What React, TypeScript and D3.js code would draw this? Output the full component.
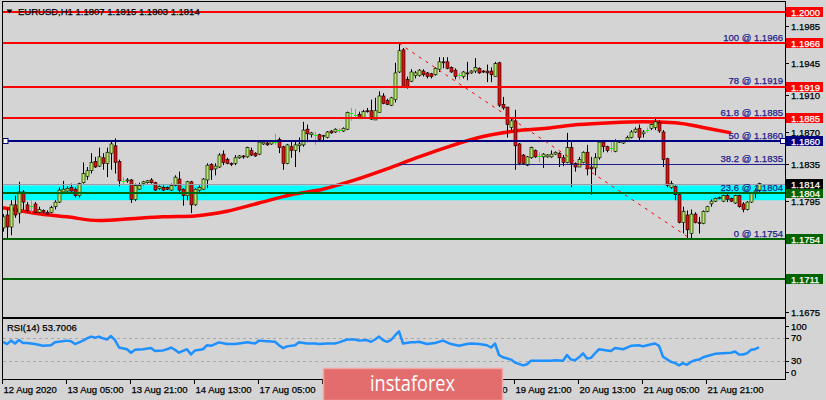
import * as d3 from "d3";

// EURUSD H1, one row per bar from 12 Aug 13:00: [open, high, low, close]
const candles: number[][] = [
  [1.1766, 1.1781, 1.1762, 1.1778], [1.178, 1.1788, 1.1755, 1.1767], [1.1767, 1.1796, 1.1758, 1.1791],
  [1.1791, 1.1801, 1.1777, 1.178], [1.1782, 1.1816, 1.1771, 1.1805], [1.1805, 1.1807, 1.1785, 1.1794],
  [1.1791, 1.1794, 1.1783, 1.1785], [1.179, 1.1796, 1.1782, 1.179], [1.1792, 1.1794, 1.1782, 1.1783],
  [1.1783, 1.1789, 1.1781, 1.1786], [1.1785, 1.1786, 1.1781, 1.1783], [1.1783, 1.1785, 1.178, 1.1781],
  [1.1783, 1.179, 1.1782, 1.1788], [1.1789, 1.1796, 1.1786, 1.1794], [1.1794, 1.181, 1.1793, 1.1807],
  [1.1805, 1.1817, 1.1804, 1.1808], [1.1806, 1.1811, 1.1805, 1.1809], [1.181, 1.1814, 1.1805, 1.1806],
  [1.1808, 1.181, 1.1799, 1.1801], [1.1801, 1.1815, 1.1799, 1.1814], [1.1815, 1.1837, 1.1814, 1.1825],
  [1.1822, 1.1832, 1.1818, 1.1828], [1.1828, 1.1847, 1.1825, 1.1837], [1.1838, 1.1843, 1.1831, 1.1832],
  [1.1833, 1.1853, 1.1832, 1.1843], [1.1842, 1.1847, 1.1829, 1.1836], [1.1836, 1.1853, 1.1821, 1.1848],
  [1.1847, 1.1861, 1.1829, 1.1857], [1.1855, 1.1863, 1.1825, 1.1837], [1.1838, 1.184, 1.1811, 1.1817],
  [1.1817, 1.1821, 1.1814, 1.1817], [1.1817, 1.182, 1.1815, 1.1818], [1.1818, 1.1819, 1.1793, 1.1797],
  [1.1797, 1.1814, 1.1795, 1.1812], [1.1808, 1.1815, 1.1807, 1.1812], [1.1814, 1.1817, 1.1812, 1.1816],
  [1.1815, 1.1818, 1.1814, 1.1817], [1.1818, 1.182, 1.1814, 1.1815], [1.1815, 1.1816, 1.1806, 1.1807],
  [1.1809, 1.1812, 1.1807, 1.1811], [1.181, 1.1812, 1.1806, 1.1807], [1.181, 1.1811, 1.1807, 1.1808],
  [1.1807, 1.1814, 1.1806, 1.1812], [1.1812, 1.1823, 1.1811, 1.1821], [1.1819, 1.1827, 1.1805, 1.1807],
  [1.1808, 1.1809, 1.179, 1.1801], [1.1801, 1.1817, 1.1796, 1.1816], [1.1816, 1.1817, 1.1782, 1.1791],
  [1.1791, 1.1809, 1.179, 1.1808], [1.1807, 1.1812, 1.1805, 1.181], [1.1808, 1.182, 1.1807, 1.1819],
  [1.1818, 1.1836, 1.1809, 1.1834], [1.1835, 1.1836, 1.1818, 1.1829], [1.183, 1.1836, 1.1823, 1.1833],
  [1.1832, 1.1847, 1.1831, 1.1845], [1.1846, 1.185, 1.1834, 1.1837], [1.184, 1.1842, 1.1835, 1.1836],
  [1.1836, 1.1837, 1.1833, 1.1835], [1.1836, 1.1845, 1.1834, 1.1842], [1.1842, 1.1845, 1.1841, 1.1844],
  [1.1844, 1.1845, 1.1841, 1.1843], [1.1843, 1.1854, 1.1842, 1.1853], [1.185, 1.1853, 1.1844, 1.1845],
  [1.1847, 1.1848, 1.1843, 1.1844], [1.1846, 1.186, 1.1845, 1.1859], [1.1857, 1.186, 1.1856, 1.1859],
  [1.1858, 1.186, 1.1855, 1.1856], [1.1857, 1.1861, 1.1856, 1.186], [1.1859, 1.1868, 1.1856, 1.1859],
  [1.1862, 1.1864, 1.1847, 1.1853], [1.1854, 1.1855, 1.1829, 1.1836], [1.1836, 1.1857, 1.1835, 1.1856],
  [1.1854, 1.1859, 1.1842, 1.185], [1.185, 1.1861, 1.1832, 1.1856], [1.1855, 1.1864, 1.1848, 1.1857],
  [1.1856, 1.1881, 1.1854, 1.1872], [1.1873, 1.1878, 1.1859, 1.1868], [1.1867, 1.187, 1.1864, 1.1869],
  [1.1867, 1.187, 1.1856, 1.1867], [1.1867, 1.1868, 1.1861, 1.1862], [1.1865, 1.1867, 1.1859, 1.1866],
  [1.1864, 1.1871, 1.1863, 1.187], [1.1871, 1.1872, 1.1868, 1.1869], [1.187, 1.1874, 1.1869, 1.1873],
  [1.1872, 1.1874, 1.1869, 1.1872], [1.1871, 1.1875, 1.187, 1.1874], [1.1873, 1.1892, 1.1872, 1.1891],
  [1.1891, 1.1896, 1.1882, 1.1891], [1.1888, 1.1895, 1.1884, 1.1888], [1.1889, 1.1892, 1.1884, 1.1885],
  [1.1886, 1.1894, 1.1885, 1.1892], [1.1893, 1.1896, 1.1891, 1.1892], [1.1893, 1.1905, 1.1883, 1.1884],
  [1.1883, 1.1907, 1.1883, 1.1893], [1.1891, 1.1914, 1.1891, 1.1909], [1.1909, 1.1912, 1.19, 1.1901],
  [1.1904, 1.1906, 1.1899, 1.19], [1.1899, 1.1908, 1.1898, 1.1907], [1.1905, 1.1945, 1.1902, 1.1934],
  [1.1935, 1.1966, 1.1934, 1.1958], [1.1959, 1.1961, 1.1918, 1.1919], [1.1927, 1.193, 1.1917, 1.1919],
  [1.1925, 1.1938, 1.1924, 1.1935], [1.1931, 1.1936, 1.1928, 1.1934], [1.1931, 1.1938, 1.193, 1.1937],
  [1.1936, 1.1938, 1.193, 1.1932], [1.1934, 1.1935, 1.1928, 1.193], [1.1933, 1.1934, 1.1928, 1.193],
  [1.1932, 1.194, 1.1931, 1.1939], [1.1938, 1.1951, 1.1935, 1.1946], [1.1946, 1.1951, 1.1939, 1.1945],
  [1.1946, 1.1951, 1.1938, 1.1939], [1.194, 1.1941, 1.1934, 1.1935], [1.1937, 1.1939, 1.1927, 1.193],
  [1.1932, 1.1934, 1.1927, 1.1932], [1.193, 1.1936, 1.1928, 1.1935], [1.1934, 1.1946, 1.1926, 1.1933],
  [1.1934, 1.1937, 1.1933, 1.1936], [1.1936, 1.195, 1.1934, 1.194], [1.1939, 1.194, 1.1933, 1.1934],
  [1.1936, 1.1937, 1.1934, 1.1935], [1.1936, 1.1943, 1.1924, 1.1934], [1.1936, 1.194, 1.1924, 1.1932],
  [1.193, 1.1946, 1.193, 1.1944], [1.1945, 1.1946, 1.1897, 1.1899], [1.19, 1.1908, 1.1894, 1.1896],
  [1.1897, 1.1897, 1.1864, 1.1878], [1.1875, 1.1885, 1.1872, 1.1882], [1.1882, 1.1894, 1.1829, 1.1855],
  [1.1857, 1.1858, 1.1834, 1.1836], [1.1845, 1.1846, 1.1835, 1.1836], [1.1834, 1.1844, 1.1833, 1.1843],
  [1.1842, 1.1854, 1.1841, 1.1853], [1.185, 1.1851, 1.1842, 1.1843], [1.1844, 1.1848, 1.1837, 1.1844],
  [1.1843, 1.1847, 1.1831, 1.1846], [1.1843, 1.1846, 1.1842, 1.1845], [1.1843, 1.185, 1.1842, 1.1846],
  [1.1846, 1.1849, 1.1845, 1.1848], [1.1847, 1.1848, 1.1832, 1.1842], [1.1842, 1.1845, 1.1833, 1.1837],
  [1.1837, 1.1869, 1.1836, 1.1853], [1.1853, 1.1859, 1.181, 1.1836], [1.1836, 1.1837, 1.1827, 1.1832],
  [1.1832, 1.1843, 1.1832, 1.184], [1.1837, 1.1849, 1.1836, 1.1848], [1.1848, 1.1856, 1.1823, 1.183],
  [1.1832, 1.1843, 1.1802, 1.183], [1.1831, 1.1847, 1.1823, 1.1842], [1.1842, 1.1861, 1.184, 1.1859],
  [1.1859, 1.1861, 1.1848, 1.1854], [1.1854, 1.1855, 1.1848, 1.185], [1.1853, 1.1859, 1.1848, 1.1853],
  [1.1849, 1.1862, 1.1848, 1.186], [1.1859, 1.1861, 1.1858, 1.186], [1.1858, 1.1861, 1.1857, 1.186],
  [1.186, 1.1866, 1.1859, 1.1864], [1.1864, 1.1872, 1.1863, 1.187], [1.187, 1.1875, 1.1869, 1.1873],
  [1.1874, 1.1878, 1.1861, 1.1864], [1.1868, 1.1872, 1.1864, 1.187], [1.1872, 1.1875, 1.1869, 1.1872],
  [1.1874, 1.1879, 1.1872, 1.1878], [1.1875, 1.1884, 1.1872, 1.1881], [1.188, 1.1883, 1.1869, 1.1871],
  [1.187, 1.1872, 1.1832, 1.184], [1.1841, 1.1842, 1.181, 1.1812], [1.181, 1.1817, 1.1808, 1.1814],
  [1.1811, 1.1812, 1.1796, 1.1802], [1.1802, 1.1804, 1.1771, 1.1772], [1.1772, 1.1789, 1.176, 1.1784],
  [1.178, 1.1785, 1.1755, 1.1764], [1.176, 1.1786, 1.1754, 1.1781], [1.1781, 1.1783, 1.1771, 1.1772],
  [1.1772, 1.1778, 1.176, 1.1771], [1.1771, 1.1785, 1.177, 1.1784], [1.1784, 1.179, 1.1783, 1.1789],
  [1.1792, 1.1797, 1.1789, 1.1795], [1.1795, 1.1799, 1.1794, 1.1798], [1.1798, 1.18, 1.1797, 1.1799],
  [1.1795, 1.1802, 1.1794, 1.1801], [1.1801, 1.1805, 1.1794, 1.1797], [1.1798, 1.1799, 1.1794, 1.1795],
  [1.1793, 1.1802, 1.1792, 1.1801], [1.1801, 1.1802, 1.1788, 1.1789], [1.1792, 1.1794, 1.1783, 1.1786],
  [1.1786, 1.1795, 1.1785, 1.1794], [1.1794, 1.1805, 1.1793, 1.1804], [1.1804, 1.1809, 1.1798, 1.1806],
  [1.1807, 1.1815, 1.1803, 1.1814],
];

// moving average
const maBars = [0, 8, 16, 24, 32, 40, 48, 56, 64, 72, 80, 88, 96, 104, 112, 120, 128, 136, 144, 152, 160, 168, 176, 182];
const maValues = [1.1788, 1.1782, 1.1778, 1.1774, 1.1776, 1.1778, 1.1779, 1.1784, 1.1793, 1.1802, 1.1808, 1.1818,
  1.183, 1.1843, 1.1855, 1.1865, 1.1871, 1.1874, 1.1878, 1.188, 1.1881, 1.188, 1.1874, 1.1869];

// RSI(14)
const rsiBars = [0, 1, 2, 3, 4, 5, 6, 8, 10, 12, 13, 16, 17, 18, 20, 21, 22, 23, 24, 25, 26, 27, 28, 29, 31, 32, 33, 35,
  37, 38, 40, 41, 42, 43, 44, 45, 46, 47, 48, 50, 51, 52, 53, 54, 56, 58, 59, 61, 63, 64, 66, 68, 69, 70, 71, 73, 74,
  76, 78, 79, 81, 83, 84, 86, 88, 89, 91, 92, 93, 94, 95, 96, 97, 98, 99, 100, 102, 103, 104, 106, 108, 110, 111, 112,
  114, 116, 117, 119, 121, 122, 123, 124, 125, 127, 128, 130, 131, 132, 133, 135, 137, 138, 140, 141, 142, 143, 144,
  145, 146, 147, 148, 149, 151, 152, 153, 155, 156, 157, 159, 160, 161, 163, 164, 165, 167, 168, 169, 170, 171, 172,
  173, 174, 175, 177, 178, 180, 182, 183, 184, 185, 186, 187, 188, 189];
const rsiValues = [63, 59, 65, 60, 66, 61, 61, 59, 56, 57, 62, 65, 64, 59, 65, 69, 72, 70, 72, 69, 67, 73, 66, 53, 50,
  44, 49, 50, 52, 47, 48, 50, 53, 49, 44, 47, 50, 41, 48, 50, 57, 56, 59, 62, 59, 59, 60, 62, 60, 65, 64, 63, 57, 52,
  55, 57, 62, 60, 60, 59, 60, 60, 62, 67, 67, 65, 66, 63, 67, 72, 66, 63, 66, 74, 81, 60, 62, 62, 63, 59, 61, 65, 62,
  59, 56, 59, 60, 59, 57, 53, 60, 40, 36, 32, 27, 22, 24, 30, 30, 30, 30, 31, 30, 40, 32, 31, 36, 43, 34, 35, 43, 50,
  48, 47, 52, 50, 53, 56, 57, 55, 57, 60, 56, 37, 28, 26, 22, 26, 23, 28, 31, 32, 36, 40, 42, 43, 44, 46, 41, 41, 43,
  49, 50, 53.7];

const timeBars = [0, 16, 32, 48, 64, 80, 96, 112, 128, 144, 160, 176];
const timeLabels = ["12 Aug 2020", "13 Aug 05:00", "13 Aug 21:00", "14 Aug 13:00", "17 Aug 05:00", "17 Aug 21:00",
  "18 Aug 13:00", "19 Aug 05:00", "19 Aug 21:00", "20 Aug 13:00", "21 Aug 05:00", "21 Aug 21:00"];

const priceTicks = [1.1985, 1.1945, 1.191, 1.187, 1.1835, 1.1795, 1.1675];
const redLevels = [1.2, 1.1966, 1.1919, 1.1885];
const blueLevels = [1.186];
const greenLevels = [1.1804, 1.1754, 1.1711];
const bidPrice = 1.1814;
const zone = [1.1796, 1.1812];

const fibLevels = [0, 23.6, 38.2, 50, 61.8, 78, 100];
const fibHigh = { bar: 99, price: 1.1966 };
const fibLow = { bar: 172, price: 1.1754 };

const rsiTicks = [100, 70, 30, 0];
const rsiLevels = [70, 30];
const rsiTitle = "RSI(14) 53.7006";
const header = "EURUSD,H1  1.1807 1.1815 1.1803 1.1814";

const FONT = "'Liberation Sans', Arial, sans-serif";
const BG = "#d4d4d4";
const BULL = "#b2ea5e";
const BEAR = "#e01010";
const DOJI = "#00ff00";
const NAVY = "#000080";
const GREEN = "#006400";
const FIB = "#1e1e8c";

// small helper so axis text looks as heavy as the terminal's
const Txt = (p: any) => <text fontSize={9.5} strokeWidth={0.25} stroke={p.fill} {...p} />;

export default function App() {
  const left = 3, right = 785, top = 2, bottom = 317;
  const rTop = 319, rBottom = 379;

  const x = d3.scaleLinear().domain([0, candles.length - 1]).range([3, 759]);
  const y = d3.scaleLinear().domain([1.1754, 1.2]).range([239, 12]);
  const yr = d3.scaleLinear().domain([0, 100]).range([378, 320.5]);
  const fmt = d3.format(".4f");

  const maLine = d3.line<number>()
    .x((_, i) => x(maBars[i]))
    .y((d) => y(d))
    .curve(d3.curveMonotoneX);
  const rsiLine = d3.line<number>()
    .x((_, i) => x(rsiBars[i]))
    .y((d) => yr(d));

  const py = (p: number) => Math.round(y(p));

  const boxes = [
    ...redLevels.map((p) => ({ p, c: "#ff0000" })),
    ...blueLevels.map((p) => ({ p, c: NAVY })),
    ...greenLevels.map((p) => ({ p, c: GREEN })),
    { p: bidPrice, c: "#000000" },
  ];

  return (
    <div style={{ position: "absolute", left: 0, top: 0, width: 826, height: 400, background: BG }}>
      <svg width={826} height={400} style={{ display: "block", fontFamily: FONT }}>
        <defs>
          <clipPath id="main">
            <rect x={left} y={top} width={right - left} height={bottom - top} />
          </clipPath>
          <clipPath id="rsi">
            <rect x={left} y={rTop} width={right - left} height={rBottom - rTop} />
          </clipPath>
        </defs>
        <rect width={826} height={400} fill={BG} />

        <g clipPath="url(#main)">
          <rect x={left} y={y(zone[1])} width={right - left} height={y(zone[0]) - y(zone[1])} fill="#00ffff" />
          <path d={maLine(maValues) || ""} fill="none" stroke="#ff0000" strokeWidth={3.5} />
          {candles.map(([o, h, l, c], i) => {
            const X = Math.round(x(i));
            if (o === c) {
              return (
                <g key={i} stroke={DOJI}>
                  <line x1={X + 0.5} x2={X + 0.5} y1={y(h)} y2={y(l)} />
                  <line x1={X - 1} x2={X + 2} y1={Math.round(y(o)) + 0.5} y2={Math.round(y(o)) + 0.5} />
                </g>
              );
            }
            const t = y(Math.max(o, c));
            const b = y(Math.min(o, c));
            return (
              <g key={i}>
                <line x1={X + 0.5} x2={X + 0.5} y1={y(h)} y2={y(l)} stroke="#000" />
                <rect x={X - 1} y={t} width={3} height={Math.max(1, b - t)}
                  fill={c > o ? BULL : BEAR} stroke="#000" strokeWidth={0.6} />
              </g>
            );
          })}
          <line x1={left} x2={right} y1={py(bidPrice) + 0.5} y2={py(bidPrice) + 0.5} stroke="#9a9aa8" />
          {fibLevels.map((lv) => {
            const p = fibLow.price + ((fibHigh.price - fibLow.price) * lv) / 100;
            return (
              <line key={lv} x1={x(fibHigh.bar)} x2={right} y1={py(p) + 0.5} y2={py(p) + 0.5} stroke={FIB} />
            );
          })}
          {redLevels.map((p) => (
            <line key={p} x1={left} x2={right} y1={py(p)} y2={py(p)} stroke="#ff0000" strokeWidth={2} />
          ))}
          {blueLevels.map((p) => (
            <line key={p} x1={left} x2={right} y1={py(p)} y2={py(p)} stroke={NAVY} strokeWidth={2} />
          ))}
          {greenLevels.map((p) => (
            <line key={p} x1={left} x2={right} y1={py(p)} y2={py(p)} stroke={GREEN} strokeWidth={2} />
          ))}
          <line x1={x(fibHigh.bar)} y1={y(fibHigh.price)} x2={x(fibLow.bar)} y2={y(fibLow.price)}
            stroke="#ff0000" strokeDasharray="3,5" />
          {fibLevels.map((lv) => {
            const p = fibLow.price + ((fibHigh.price - fibLow.price) * lv) / 100;
            return (
              <Txt key={lv} x={783} y={py(p) - 2} textAnchor="end" fill={FIB}>
                {`${lv} @ ${fmt(p)}`}
              </Txt>
            );
          })}
          {blueLevels.map((p) => (
            <rect key={p} x={3} y={py(p) - 2.5} width={5} height={5} fill="#fff" stroke={NAVY} />
          ))}
        </g>

        {/* header */}
        <path d="M6.5,9.5 L12.5,9.5 L9.5,13.5 Z" fill="#000" />
        <Txt x={18} y={15} fill="#000">{header}</Txt>

        {/* frames */}
        <rect x={left - 0.5} y={top - 0.5} width={right - left + 1} height={bottom - top + 1} fill="none" stroke="#000" />
        <rect x={left - 0.5} y={rTop - 0.5} width={right - left + 1} height={rBottom - rTop + 1} fill="none" stroke="#000" />

        {/* price axis */}
        {priceTicks.map((p) => (
          <g key={p}>
            <line x1={786} x2={789} y1={py(p) + 0.5} y2={py(p) + 0.5} stroke="#000" />
            <Txt x={791} y={py(p) + 3.5} fill="#000">{fmt(p)}</Txt>
          </g>
        ))}
        {boxes.map(({ p, c }) => (
          <g key={p}>
            <rect x={786} y={py(p) - 5} width={37} height={10} fill={c} />
            <Txt x={791} y={py(p) + 3.5} fill="#fff">{fmt(p)}</Txt>
          </g>
        ))}
        {blueLevels.map((p) => (
          <rect key={p} x={780.5} y={py(p) - 2.5} width={5} height={5} fill="#fff" stroke={NAVY} />
        ))}

        {/* RSI panel */}
        <g clipPath="url(#rsi)">
          {rsiLevels.map((v) => (
            <line key={v} x1={left} x2={right} y1={Math.round(yr(v)) + 0.5} y2={Math.round(yr(v)) + 0.5}
              stroke="#a8a8a8" strokeDasharray="3,3" />
          ))}
          <path d={rsiLine(rsiValues) || ""} fill="none" stroke="#1e90ff" strokeWidth={2.5} strokeLinejoin="round" />
        </g>
        <Txt x={7} y={331} fill="#000">{rsiTitle}</Txt>
        {rsiTicks.map((v) => {
          const ty = Math.min(372, Math.max(326, yr(v)));
          return (
            <g key={v}>
              <line x1={786} x2={789} y1={Math.round(ty) + 0.5} y2={Math.round(ty) + 0.5} stroke="#000" />
              <Txt x={791} y={ty + 3.5} fill="#000">{v}</Txt>
            </g>
          );
        })}

        {/* time axis */}
        {timeBars.map((b, i) => {
          const X = Math.round(x(b)) - 0.5;
          return (
            <g key={b}>
              <line x1={X} x2={X} y1={380} y2={384} stroke="#000" />
              <Txt x={X + 1} y={393} fill="#000">{timeLabels[i]}</Txt>
            </g>
          );
        })}

        {/* watermark */}
        <rect x={323.5} y={368.5} width={179} height={32} fill="#e36d6d" stroke="#f2a5a5" strokeWidth={1.5} />
        <text x={370} y={391} fontSize={22} fill="#fff" textLength={85} lengthAdjust="spacingAndGlyphs"
          fontFamily="'Open Sans', sans-serif">
          instaforex
        </text>
      </svg>
    </div>
  );
}
